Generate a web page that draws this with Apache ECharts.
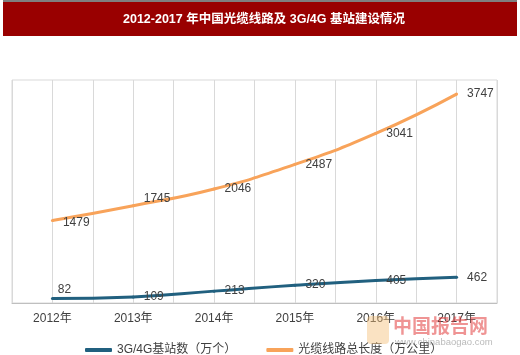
<!DOCTYPE html>
<html>
<head>
<meta charset="utf-8">
<script src="https://cdn.jsdelivr.net/npm/echarts@6/dist/echarts.min.js"></script>
<style>
html,body{margin:0;padding:0;background:#fff;}
#c{width:520px;height:355px;}
</style>
</head>
<body>
<div id="c"></div>
<script>
var titleText = '2012-2017 年中国光缆线路及 3G/4G 基站建设情况';
var years = ['2012年', '2013年', '2014年', '2015年', '2016年', '2017年'];
var seriesNames = ['3G/4G基站数（万个）', '光缆线路总长度（万公里）'];
var stations = [82, 109, 213, 320, 405, 462];
var cables = [1479, 1745, 2046, 2487, 3041, 3747];

var FONT = '"Liberation Sans","Noto Sans CJK SC",sans-serif';

function toPoints(arr, overrides) {
  return arr.map(function (v, i) {
    var item = { value: [i, v] };
    if (overrides && overrides[i]) item.label = overrides[i];
    return item;
  });
}

var chart = echarts.init(document.getElementById('c'), null, { renderer: 'canvas' });
chart.setOption({
  backgroundColor: '#fff',
  animation: false,
  grid: {
    left: 12, right: 23, top: 80, bottom: 52,
    show: true, borderColor: '#d9d9d9', borderWidth: 1
  },
  xAxis: {
    type: 'value',
    min: -0.5, max: 5.5, interval: 0.5,
    axisLine: { show: true, lineStyle: { color: '#bfbfbf' } },
    axisTick: { show: false },
    splitLine: { show: true, lineStyle: { color: '#d9d9d9', width: 1 } },
    axisLabel: {
      margin: 10,
      fontFamily: FONT, fontSize: 12, color: '#404040',
      showMinLabel: false, showMaxLabel: false,
      formatter: function (v) {
        var i = Math.round(v);
        return Math.abs(v - i) < 1e-6 && years[i] ? years[i] : '';
      }
    }
  },
  yAxis: {
    type: 'value', min: 0, max: 4000,
    show: false,
    splitLine: { show: false }
  },
  legend: {
    left: 80, top: 339,
    itemWidth: 27, itemHeight: 4, itemGap: 30,
    icon: 'roundRect',
    textStyle: { fontFamily: FONT, fontSize: 12, color: '#404040' },
    data: [seriesNames[0], seriesNames[1]]
  },
  series: [
    {
      name: seriesNames[0],
      type: 'line',
      smooth: true,
      symbol: 'circle', symbolSize: 3,
      color: '#21607f',
      lineStyle: { width: 3, color: '#21607f' },
      itemStyle: { color: '#21607f' },
      label: {
        show: true, position: 'right', distance: 9,
        fontFamily: FONT, fontSize: 12, color: '#404040'
      },
      data: toPoints(stations, { 0: { position: 'top', offset: [12, 8] } })
    },
    {
      name: seriesNames[1],
      type: 'line',
      smooth: true,
      symbol: 'circle', symbolSize: 3,
      color: '#f8a35a',
      lineStyle: { width: 3, color: '#f8a35a' },
      itemStyle: { color: '#f8a35a' },
      label: {
        show: true, position: 'right', distance: 9,
        fontFamily: FONT, fontSize: 12, color: '#404040'
      },
      data: toPoints(cables, { 1: { offset: [0, -7] }, 0: { offset: [0, 2] } })
    }
  ],
  graphic: [
    { type: 'rect', shape: { x: 3, y: 0, width: 514, height: 2 }, style: { fill: '#7f7f7f' } },
    { type: 'rect', shape: { x: 3, y: 2, width: 514, height: 34 }, style: { fill: '#990000' } },
    {
      type: 'text', x: 264, y: 20,
      style: {
        text: titleText, fill: '#fff', align: 'center', verticalAlign: 'middle',
        font: 'bold 12.5px "Liberation Sans","Noto Sans CJK SC",sans-serif'
      }
    },
    {
      type: 'rect', shape: { x: 367, y: 316, width: 22, height: 28, r: 4 },
      style: { fill: 'rgba(245,190,120,0.45)' }, z: 10
    },
    {
      type: 'text', x: 393, y: 326,
      style: {
        text: '中国报告网', fill: 'rgba(225,60,60,0.55)', align: 'left', verticalAlign: 'middle',
        font: 'bold 19px "Noto Sans CJK SC",sans-serif'
      }, z: 10
    },
    {
      type: 'text', x: 395, y: 342,
      style: {
        text: 'www.chinabaogao.com', fill: 'rgba(140,140,140,0.6)', align: 'left', verticalAlign: 'middle',
        font: '9.5px "Liberation Sans",sans-serif'
      }, z: 10
    }
  ]
});
</script>
</body>
</html>
